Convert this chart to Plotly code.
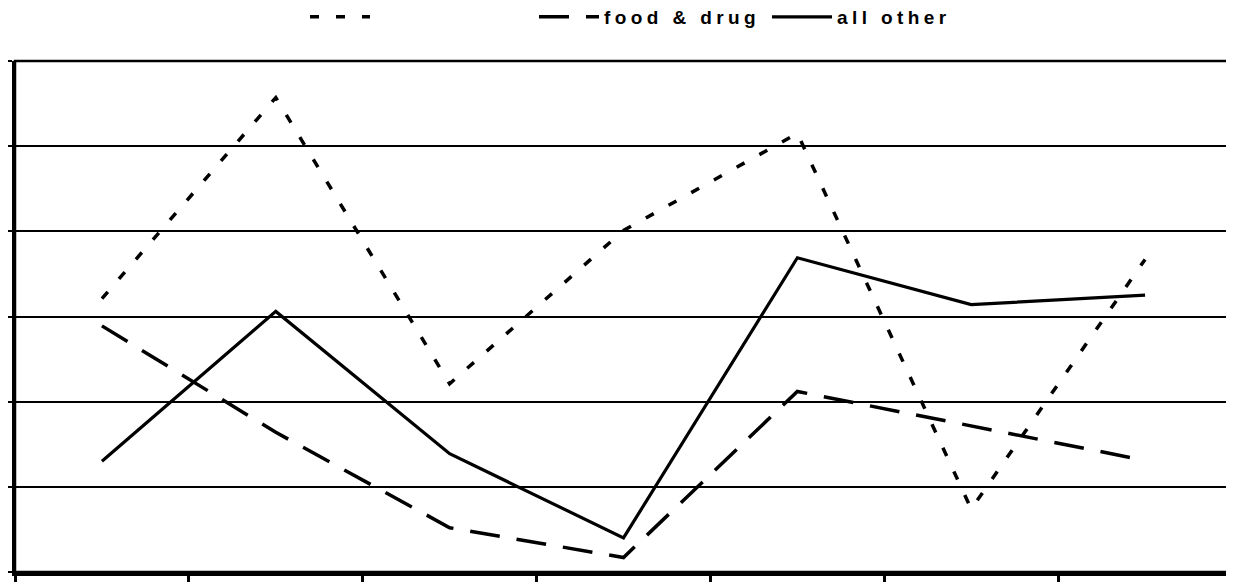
import plotly.graph_objects as go

periods = [1, 2, 3, 4, 5, 6, 7]
series_names = ["", "food & drug", "all other"]
dotted_values = [3.21, 5.57, 2.21, 4.01, 5.15, 0.74, 3.67]
food_drug_values = [2.89, 1.64, 0.52, 0.17, 2.12, 1.72, 1.31]
all_other_values = [1.30, 3.06, 1.39, 0.40, 3.69, 3.14, 3.25]

LS = "letter-spacing:4.4px"
PAGE_OFFSET = 8  # default body margin of the html page

fig = go.Figure()
fig.add_trace(go.Scatter(x=periods, y=dotted_values, mode="lines", name=series_names[0],
                         legend="legend",
                         line=dict(color="black", width=3.5, dash="9px,17px")))
fig.add_trace(go.Scatter(x=periods, y=food_drug_values, mode="lines",
                         name=f'<span style="{LS}">{series_names[1]}</span>',
                         legend="legend2",
                         line=dict(color="black", width=3.5, dash="30px,17px")))
fig.add_trace(go.Scatter(x=periods, y=all_other_values, mode="lines",
                         name=f'<span style="{LS}">{series_names[2]}</span>',
                         legend="legend3",
                         line=dict(color="black", width=3.2)))

W = 1234 - PAGE_OFFSET
H = 582 - PAGE_OFFSET


def legend_at(px):
    return dict(orientation="h", xref="container", yref="container",
                x=(px - PAGE_OFFSET) / W, xanchor="left",
                y=1 - (17 - PAGE_OFFSET) / H, yanchor="middle",
                font=dict(family="Liberation Sans", size=19, color="black", weight="bold"),
                itemwidth=60, bgcolor="rgba(0,0,0,0)")


fig.update_layout(
    width=W, height=H,
    margin=dict(l=15 - PAGE_OFFSET, r=2, t=61 - PAGE_OFFSET, b=10, autoexpand=False),
    paper_bgcolor="white", plot_bgcolor="white",
    showlegend=True,
    legend=legend_at(305),
    legend2=legend_at(534),
    legend3=legend_at(767),
    shapes=[dict(type="rect", xref="paper", yref="paper", x0=0, x1=1, y0=0, y1=1,
                 line=dict(color="black", width=2.5), layer="above")],
)
fig.update_xaxes(range=[0.5, 7.5], tick0=0.5, dtick=1, ticks="outside", ticklen=6,
                 tickwidth=2.5, tickcolor="black", showticklabels=False, showgrid=False,
                 zeroline=False, showline=True, linecolor="black", linewidth=4)
fig.update_yaxes(range=[0, 6], dtick=1, ticks="outside", ticklen=9, tickwidth=2,
                 tickcolor="black", showticklabels=False, showgrid=True, gridcolor="black",
                 gridwidth=2, zeroline=False, showline=True, linecolor="black", linewidth=2.5)

fig.write_html("out.html")
